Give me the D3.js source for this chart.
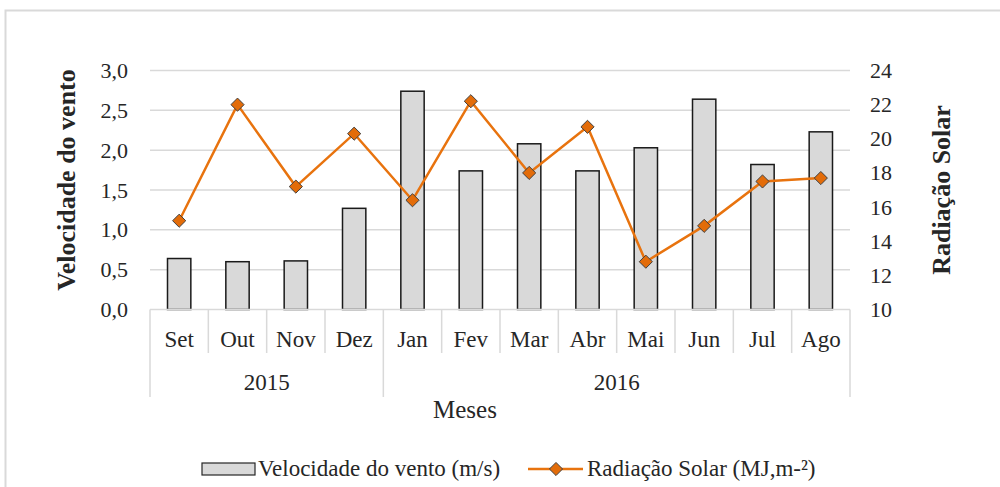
<!DOCTYPE html>
<html>
<head>
<meta charset="utf-8">
<script src="https://cdn.jsdelivr.net/npm/d3@7"></script>
<style>
  body { margin: 0; background: #fff; }
  svg text { font-family: "Liberation Serif", "Times New Roman", serif; fill: #262626; }
</style>
</head>
<body>
<svg id="chart" width="1000" height="487"></svg>
<script>
// data
const months = ["Set", "Out", "Nov", "Dez", "Jan", "Fev", "Mar", "Abr", "Mai", "Jun", "Jul", "Ago"];
const years = [{ label: "2015", from: 0, to: 4 }, { label: "2016", from: 4, to: 12 }];
const vento = [0.64, 0.60, 0.61, 1.27, 2.74, 1.74, 2.08, 1.74, 2.03, 2.64, 1.82, 2.23];
const radiacao = [15.2, 22.0, 17.2, 20.3, 16.4, 22.2, 18.0, 20.7, 12.8, 14.9, 17.5, 17.7];
const ventoTicks = [0, 0.5, 1, 1.5, 2, 2.5, 3];
const radTicks = [10, 12, 14, 16, 18, 20, 22, 24];

const svg = d3.select("#chart");
const pLeft = 150, pRight = 850, pTop = 70.5, pBottom = 309.5;

// outer frame
svg.append("rect")
  .attr("x", 5.5).attr("y", 10.5).attr("width", 1010).attr("height", 500)
  .attr("fill", "none").attr("stroke", "#d9d9d9").attr("stroke-width", 2);

const x = d3.scaleBand().domain(months).range([pLeft, pRight]);
const y = d3.scaleLinear().domain([0, 3]).range([pBottom, pTop]);
const y2 = d3.scaleLinear().domain([10, 24]).range([pBottom, pTop]);

// gridlines
svg.append("g").selectAll("line").data(ventoTicks.slice(1)).join("line")
  .attr("x1", pLeft).attr("x2", pRight)
  .attr("y1", d => y(d)).attr("y2", d => y(d))
  .attr("stroke", "#d9d9d9").attr("stroke-width", 1.5);

// left axis
const fmt = d => d.toFixed(1).replace(".", ",");
const gL = svg.append("g").attr("transform", `translate(${pLeft - 22},0)`)
  .call(d3.axisLeft(y).tickValues(ventoTicks).tickFormat(fmt).tickSize(0).tickPadding(0));
gL.select(".domain").remove();
gL.selectAll("text").attr("font-size", 22).attr("font-family", "Liberation Serif").attr("fill", "#262626");

// right axis
const gR = svg.append("g").attr("transform", `translate(${pRight + 20},0)`)
  .call(d3.axisRight(y2).tickValues(radTicks).tickSize(0).tickPadding(0));
gR.select(".domain").remove();
gR.selectAll("text").attr("font-size", 22).attr("font-family", "Liberation Serif").attr("fill", "#262626");

// bars
const bw = x.bandwidth() * 0.4;
svg.append("g").selectAll("rect").data(months).join("rect")
  .attr("x", d => x(d) + (x.bandwidth() - bw) / 2)
  .attr("width", bw)
  .attr("y", (d, i) => y(vento[i]))
  .attr("height", (d, i) => y(0) - y(vento[i]))
  .attr("fill", "#d9d9d9").attr("stroke", "#1a1a1a").attr("stroke-width", 1.5);

// category axis (two levels)
const axisCol = "#d9d9d9";
const cat = svg.append("g");
cat.append("line").attr("x1", pLeft).attr("x2", pRight).attr("y1", pBottom).attr("y2", pBottom)
  .attr("stroke", axisCol).attr("stroke-width", 1.5);
const monthBottom = 353, yearBottom = 397;
const bounds = d3.range(months.length + 1);
const yearEdges = new Set(years.flatMap(d => [d.from, d.to]));
cat.selectAll("line.div").data(bounds).join("line").attr("class", "div")
  .attr("x1", i => i < months.length ? x(months[i]) : pRight)
  .attr("x2", i => i < months.length ? x(months[i]) : pRight)
  .attr("y1", pBottom)
  .attr("y2", i => yearEdges.has(i) ? yearBottom : monthBottom)
  .attr("stroke", axisCol).attr("stroke-width", 1.5);
cat.selectAll("text.m").data(months).join("text").attr("class", "m")
  .attr("x", d => x(d) + x.bandwidth() / 2).attr("y", 347)
  .attr("text-anchor", "middle")
  .attr("font-size", 23).text(d => d);
cat.selectAll("text.y").data(years).join("text").attr("class", "y")
  .attr("x", d => (x(months[d.from]) + (d.to < months.length ? x(months[d.to]) : pRight)) / 2)
  .attr("y", 390).attr("text-anchor", "middle")
  .attr("font-size", 23).text(d => d.label);

// line series
const line = d3.line().x((d, i) => x(months[i]) + x.bandwidth() / 2).y(d => y2(d));
svg.append("path").datum(radiacao).attr("d", line)
  .attr("fill", "none").attr("stroke", "#e8730e").attr("stroke-width", 2.5);
const diamond = d3.symbol().type(d3.symbolDiamond2).size(110);
svg.append("g").selectAll("path").data(radiacao).join("path")
  .attr("d", diamond)
  .attr("transform", (d, i) => `translate(${x(months[i]) + x.bandwidth() / 2},${y2(d)})`)
  .attr("fill", "#e36c09").attr("stroke", "#404040").attr("stroke-width", 1);

// axis titles
svg.append("text").attr("transform", `translate(66,${(pTop + pBottom) / 2 - 10}) rotate(-90)`)
  .attr("text-anchor", "middle").attr("dominant-baseline", "central")
  .attr("font-size", 26).attr("font-weight", "bold").attr("fill", "#000").text("Velocidade do vento");
svg.append("text").attr("transform", `translate(941,${(pTop + pBottom) / 2}) rotate(-90)`)
  .attr("text-anchor", "middle").attr("dominant-baseline", "central")
  .attr("font-size", 26).attr("font-weight", "bold").attr("fill", "#000").text("Radiação Solar");
svg.append("text").attr("x", (pLeft + pRight) / 2 - 35).attr("y", 418)
  .attr("text-anchor", "middle")
  .attr("font-size", 25).text("Meses");

// legend
const lg = svg.append("g");
lg.append("rect").attr("x", 202).attr("y", 463).attr("width", 53).attr("height", 12)
  .attr("fill", "#d9d9d9").attr("stroke", "#262626").attr("stroke-width", 1.2);
lg.append("text").attr("x", 258).attr("y", 476)
  .attr("font-size", 23).text("Velocidade do vento (m/s)");
lg.append("line").attr("x1", 528).attr("x2", 583).attr("y1", 469).attr("y2", 469)
  .attr("stroke", "#e8730e").attr("stroke-width", 2.5);
lg.append("path").attr("d", diamond).attr("transform", "translate(556,469)")
  .attr("fill", "#e36c09").attr("stroke", "#404040").attr("stroke-width", 1);
lg.append("text").attr("x", 587).attr("y", 476)
  .attr("font-size", 23).text("Radiação Solar (MJ,m-²)");
</script>
</body>
</html>
